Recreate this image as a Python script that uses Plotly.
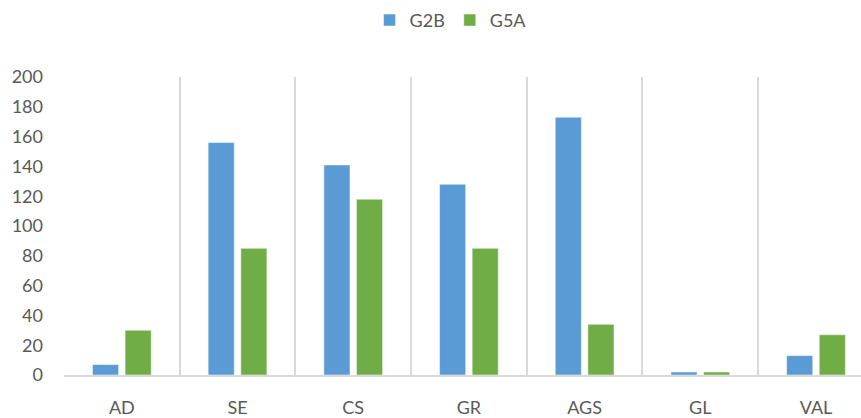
import plotly.graph_objects as go

categories = ["AD", "SE", "CS", "GR", "AGS", "GL", "VAL"]
g2b = [7, 156, 141, 128, 173, 2, 13]
g5a = [30, 85, 118, 85, 34, 2, 27]

BLUE = "#5B9BD5"
GREEN = "#70AD47"
GRID = "#D9D9D9"
TEXT = "#595959"
FONT = "Lato"

fig = go.Figure()
fig.add_trace(go.Bar(name="G2B", x=categories, y=g2b, marker=dict(color=BLUE, line=dict(color="rgba(255,255,255,0.6)", width=0.8))))
fig.add_trace(go.Bar(name="G5A", x=categories, y=g5a, marker=dict(color=GREEN, line=dict(color="rgba(255,255,255,0.6)", width=0.8))))

fig.update_layout(
    width=861, height=418,
    margin=dict(l=64, r=0, t=77, b=40),
    paper_bgcolor="white", plot_bgcolor="white",
    barmode="group", bargap=0.436, bargroupgap=0.2,
    font=dict(family=FONT, size=18, color=TEXT),
    showlegend=True,
    legend=dict(orientation="h", x=0.485, xanchor="center", y=1.19, yanchor="middle",
                font=dict(size=18, color=TEXT), itemwidth=30, traceorder="normal"),
)
fig.update_xaxes(
    type="category", range=[-0.5, 6.389],
    tickson="boundaries", showgrid=True, gridcolor=GRID, gridwidth=1.5,
    showline=True, linecolor=GRID, linewidth=1.5,
    ticks="", ticklabelstandoff=16,
    tickfont=dict(size=18, color=TEXT),
)
fig.update_yaxes(
    range=[0, 200], dtick=20, showgrid=False, zeroline=False,
    showline=False, ticks="", ticklabelstandoff=20,
    tickfont=dict(size=18, color=TEXT),
)

fig.write_html("out.html")
